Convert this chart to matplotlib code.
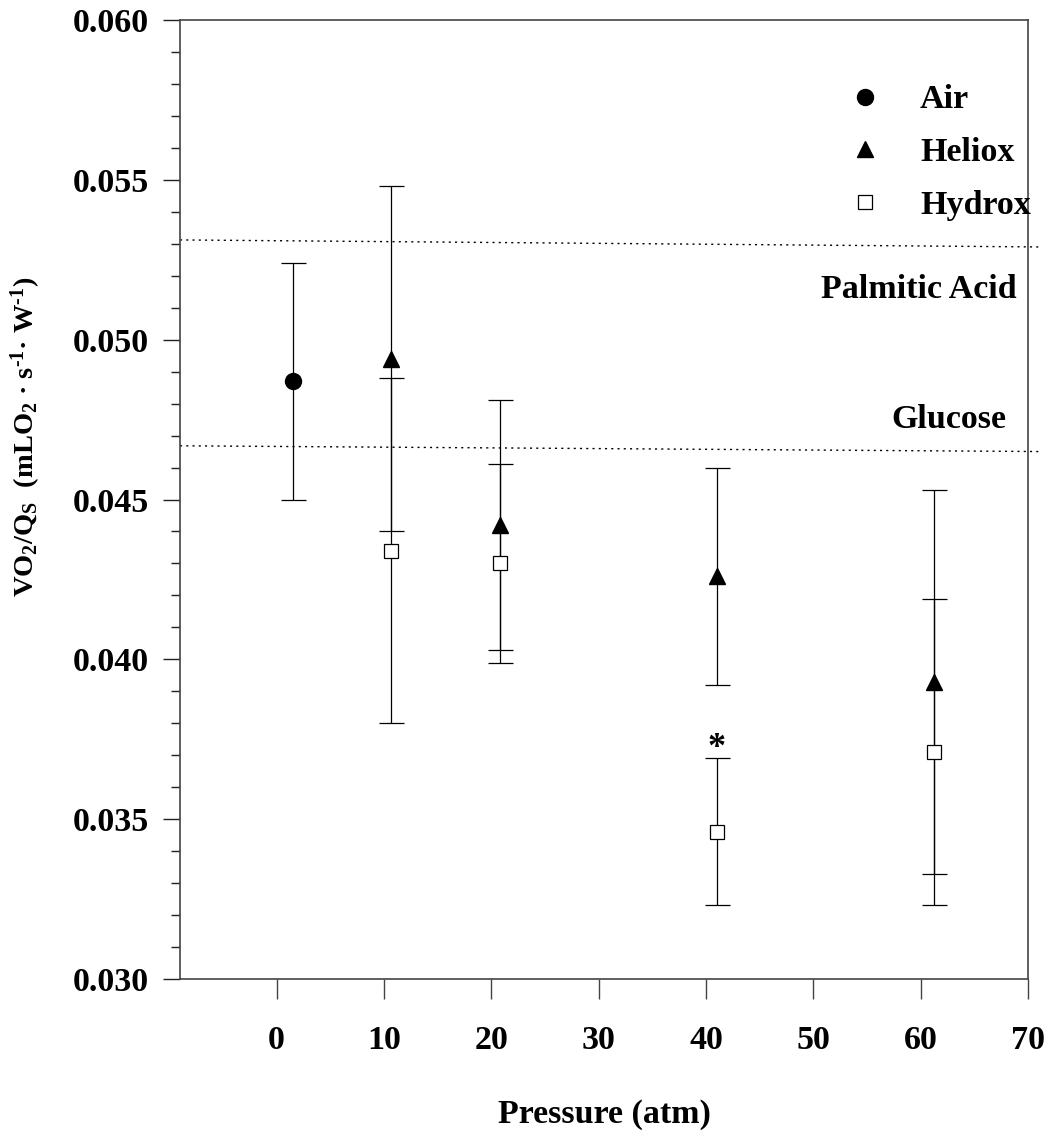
"""VO2/Qs against pressure for air, heliox and hydrox"""
import matplotlib
matplotlib.use('Agg')
import matplotlib.pyplot as plt
from matplotlib.lines import Line2D

plt.rcParams['font.family'] = ['Liberation Serif', 'DejaVu Serif']
plt.rcParams['font.weight'] = 'bold'
plt.rcParams['mathtext.fontset'] = 'custom'
plt.rcParams['mathtext.rm'] = 'Liberation Serif:bold'
plt.rcParams['mathtext.it'] = 'Liberation Serif:bold'
plt.rcParams['mathtext.bf'] = 'Liberation Serif:bold'

# data
air_p = [1.5]
air_v = [0.0487]
air_err = [0.0037]

heliox_p = [10.7, 20.8, 41.0, 61.2]
heliox_v = [0.0494, 0.0442, 0.0426, 0.0393]
heliox_err = [0.0054, 0.0039, 0.0034, 0.0060]

hydrox_p = [10.7, 20.8, 41.0, 61.2]
hydrox_v = [0.0434, 0.0430, 0.0346, 0.0371]
hydrox_err = [0.0054, 0.0031, 0.0023, 0.0048]

# reference lines (slightly tilted in the original)
ref_x = [-9, 71.2]
palmitic_y = [0.05312, 0.05290]
glucose_y = [0.04668, 0.04650]

star_p, star_v = 41.0, 0.03722

FS = 24.5

fig = plt.figure(figsize=(10.45, 11.32), dpi=100)
ax = fig.add_axes([180 / 1045, 1 - 979 / 1132, 848 / 1045, 959 / 1132])

ebkw = dict(ecolor='black', elinewidth=0.9, capsize=9, capthick=0.9,
            linestyle='none', zorder=3)
ax.errorbar(air_p, air_v, yerr=air_err, marker='o', ms=11.5,
            mfc='black', mec='black', **ebkw)
ax.errorbar(heliox_p, heliox_v, yerr=heliox_err, marker='^', ms=11.3,
            mfc='black', mec='black', **ebkw)
ax.errorbar(hydrox_p, hydrox_v, yerr=hydrox_err, marker='s', ms=9.5,
            mfc='white', mec='black', mew=0.9, **ebkw)

ax.plot(ref_x, palmitic_y, color='black', ls=(0, (1.5, 3)), lw=1.0,
        clip_on=False)
ax.plot(ref_x, glucose_y, color='black', ls=(0, (1.5, 3)), lw=1.0,
        clip_on=False)
ax.text(68.9, 0.05158, 'Palmitic Acid', fontsize=FS, fontweight='bold',
        ha='right', va='center')
ax.text(68.0, 0.04751, 'Glucose', fontsize=FS, fontweight='bold',
        ha='right', va='center')
ax.text(star_p, star_v, '*', fontsize=26, fontweight='bold',
        ha='center', va='center')

ax.set_xlim(-9, 70)
ax.set_ylim(0.030, 0.060)
ax.set_xticks([0, 10, 20, 30, 40, 50, 60, 70])
ax.set_yticks([0.030, 0.035, 0.040, 0.045, 0.050, 0.055, 0.060])
ax.set_yticks([0.030 + 0.001 * i for i in range(31)], minor=True)
ax.set_yticklabels(['0.030', '0.035', '0.040', '0.045', '0.050',
                    '0.055', '0.060'])
ax.tick_params(axis='x', which='major', length=14.4, width=1.0,
               direction='out', labelsize=FS, pad=19, color='#444444')
ax.tick_params(axis='y', which='major', length=12.2, width=1.0,
               direction='out', labelsize=FS, pad=10, color='#222222')
ax.tick_params(axis='y', which='minor', length=6.5, width=1.0,
               direction='out', color='#222222')
for lab in ax.get_xticklabels() + ax.get_yticklabels():
    lab.set_fontweight('bold')
for sp in ax.spines.values():
    sp.set_color('#444444')
    sp.set_linewidth(1.2)

ax.set_xlabel('Pressure (atm)', fontsize=FS, fontweight='bold', labelpad=31)
ax.set_ylabel(r'VO$_2$/Q$_S$  (mLO$_2$ · s$^{\text{-}1}$· W$^{\text{-}1}$)',
              fontsize=20.5, fontweight='bold')
ax.yaxis.set_label_coords(-0.161, 0.565)

handles = [
    Line2D([], [], ls='none', marker='o', ms=11.5, mfc='black', mec='black'),
    Line2D([], [], ls='none', marker='^', ms=11.3, mfc='black', mec='black'),
    Line2D([], [], ls='none', marker='s', ms=9.5, mfc='white', mec='black',
           mew=0.9),
]
leg = ax.legend(handles, ['Air', 'Heliox', 'Hydrox'], loc='upper left',
                bbox_to_anchor=(0.7877, 0.9328), frameon=False, fontsize=FS,
                handlelength=1.0, handletextpad=1.12, labelspacing=0.635,
                borderaxespad=0, borderpad=0)
for t in leg.get_texts():
    t.set_fontweight('bold')

fig.savefig('out.png', dpi=100)
